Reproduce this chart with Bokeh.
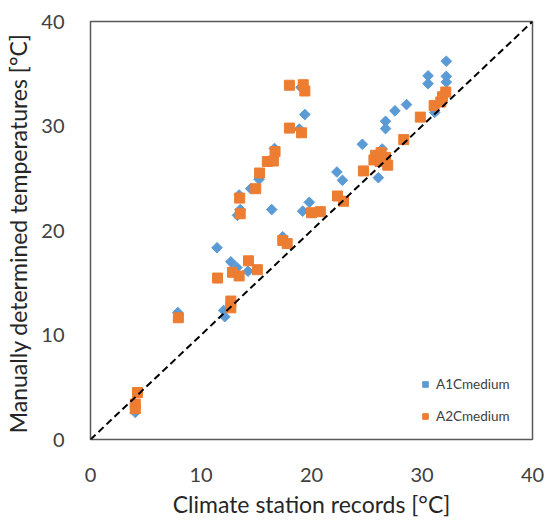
import math
from bokeh.plotting import figure
from bokeh.models import Range1d, FixedTicker, Slope, Legend, LegendItem
from bokeh.embed import file_html
from bokeh.resources import INLINE

# Series A1Cmedium (climate station record, manually determined temperature)
a1_x = [4.05, 7.9, 11.45, 12.7, 13.25, 14.25, 12.05, 12.15, 13.3, 13.55, 13.45, 14.5,
        15.25, 16.65, 16.4, 17.4, 18.9, 19.4, 19.05, 19.2, 19.8, 22.3, 22.8, 24.6,
        26.4, 26.05, 26.7, 26.7, 27.55, 28.6, 30.55, 30.55, 32.2, 32.2, 32.2, 31.15]
a1_y = [2.6, 12.15, 18.35, 17.0, 16.45, 16.1, 12.35, 11.75, 21.45, 22.0, 23.4, 24.0,
        24.9, 27.85, 22.0, 19.4, 29.7, 31.1, 33.7, 21.85, 22.7, 25.6, 24.8, 28.25,
        27.8, 25.05, 30.45, 29.75, 31.45, 32.05, 34.8, 34.05, 36.2, 34.75, 34.2, 31.3]

# Series A2Cmedium
a2_x = [4.25, 4.05, 4.05, 7.95, 11.5, 12.85, 13.45, 14.3, 15.1, 12.7, 12.7, 13.55,
        13.5, 14.95, 15.3, 16.0, 16.55, 16.7, 18.0, 19.25, 19.4, 18.0, 19.1, 17.4,
        17.8, 20.0, 20.8, 22.35, 22.9, 24.7, 25.8, 26.3, 25.65, 26.2, 26.7, 26.9,
        28.35, 29.85, 31.1, 31.7, 31.85, 32.15]
a2_y = [4.5, 3.4, 2.95, 11.65, 15.45, 16.0, 15.65, 17.1, 16.25, 13.25, 12.6, 21.6,
        23.1, 24.0, 25.5, 26.6, 26.65, 27.55, 33.9, 33.95, 33.35, 29.8, 29.35, 19.05,
        18.75, 21.7, 21.8, 23.3, 22.8, 25.7, 27.2, 27.45, 26.75, 26.6, 27.0, 26.25,
        28.7, 30.85, 31.95, 32.3, 32.8, 33.25]

series_names = ["A1Cmedium", "A2Cmedium"]
ticks = [0, 10, 20, 30, 40]
x_title = "Climate station records [°C]"
y_title = "Manually determined  temperatures [°C]"

FONT = "Lato"
BLUE = "#5B9BD5"
ORANGE = "#ED7D31"

p = figure(width=547, height=521, output_backend="svg", toolbar_location=None,
           x_range=Range1d(0, 40), y_range=Range1d(0, 40),
           min_border_left=90, min_border_right=15, min_border_top=21, min_border_bottom=82)
p.grid.visible = False
p.outline_line_color = "#595959"
p.outline_line_width = 1.5
p.background_fill_color = "white"
p.border_fill_color = "white"

for ax in (p.xaxis[0], p.yaxis[0]):
    ax.ticker = FixedTicker(ticks=ticks)
    ax.axis_line_color = None
    ax.major_tick_line_color = None
    ax.minor_tick_line_color = None
    ax.major_tick_out = 0
    ax.major_tick_in = 0
    ax.major_label_text_font = FONT
    ax.major_label_text_font_size = "20px"
    ax.major_label_text_color = "#404040"
    ax.axis_label_text_font = FONT
    ax.axis_label_text_font_size = "23px"
    ax.axis_label_text_font_style = "normal"
    ax.axis_label_text_color = "#262626"

p.xaxis.axis_label = x_title
p.yaxis.axis_label = y_title
p.xaxis.major_label_standoff = 28
p.xaxis.axis_label_standoff = 5
p.yaxis.major_label_standoff = 26
p.yaxis.axis_label_standoff = 6

p.add_layout(Slope(gradient=1, y_intercept=0, line_color="black", line_width=2,
                   line_dash="7 4"))

r1 = p.scatter(a1_x, a1_y, marker="square", size=7.5, angle=math.pi / 4,
               fill_color=BLUE, line_color=BLUE)
r2 = p.scatter(a2_x, a2_y, marker="square", size=10,
               fill_color=ORANGE, line_color=ORANGE)

legend = Legend(items=[LegendItem(label=series_names[0], renderers=[r1]),
                       LegendItem(label=series_names[1], renderers=[r2])],
                location=(328, 15), padding=0, margin=0, spacing=16,
                glyph_width=14, glyph_height=14, label_height=14, label_standoff=4,
                label_text_font=FONT, label_text_font_size="13.5px",
                label_text_color="#404040",
                border_line_color=None, background_fill_alpha=0)
p.add_layout(legend)

open("out.html", "w").write(file_html(p, INLINE))
